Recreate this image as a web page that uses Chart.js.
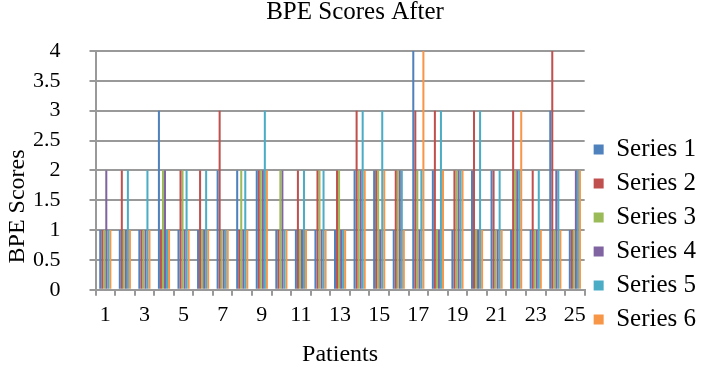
<!DOCTYPE html>
<html>
<head>
<meta charset="utf-8">
<script src="https://cdn.jsdelivr.net/npm/chart.js@4"></script>
<style>
  html, body { margin: 0; padding: 0; background: #fff; }
  #wrap { width: 720px; height: 369px; }
</style>
</head>
<body>
<div id="wrap"><canvas id="bpeChart" width="720" height="369"></canvas></div>
<script>
const patients = [];
for (let i = 1; i <= 25; i++) patients.push(String(i));

// one array per series (patients 1..25)
const series1 = [1,1,1,3,1,1,2,2,2,1,1,1,1,2,2,1,4,2,1,2,2,1,1,3,1];
const series2 = [1,2,1,1,2,2,3,1,2,1,2,2,2,3,2,2,3,3,2,3,2,3,2,4,1];
const series3 = [1,1,1,2,2,1,1,2,2,2,1,2,2,2,2,2,2,1,2,1,1,2,1,1,1];
const series4 = [2,1,1,2,1,1,1,1,2,2,1,1,1,2,1,2,1,1,2,1,1,2,1,2,2];
const series5 = [1,2,2,1,2,2,1,2,3,1,2,2,1,3,3,2,2,3,2,3,2,2,2,2,2];
const series6 = [1,1,1,1,1,1,1,1,2,1,1,1,1,2,2,1,4,2,2,1,1,3,1,1,2];

const seriesNames = ['Series 1', 'Series 2', 'Series 3', 'Series 4', 'Series 5', 'Series 6'];
const seriesColors = ['#4F81BD', '#C0504D', '#9BBB59', '#8064A2', '#4BACC6', '#F79646'];
const allSeries = [series1, series2, series3, series4, series5, series6];

const serif = "'Liberation Serif', 'Times New Roman', serif";

const datasets = allSeries.map((vals, i) => ({
    label: seriesNames[i],
    data: vals,
    backgroundColor: seriesColors[i],
    borderWidth: 0,
    categoryPercentage: 0.62,
    barPercentage: 1.0,
}));

const ctx = document.getElementById('bpeChart').getContext('2d');
new Chart(ctx, {
    type: 'bar',
    data: { labels: patients, datasets: datasets },
    options: {
        responsive: false,
        animation: false,
        layout: { padding: { left: 4, right: 14, top: 0, bottom: 0 } },
        plugins: {
            title: {
                display: true,
                text: 'BPE Scores After',
                color: '#000',
                font: { family: serif, size: 25, weight: 'normal', lineHeight: 1.0 },
                padding: { top: 0, bottom: 26 }
            },
            legend: {
                display: true,
                position: 'right',
                title: {
                    display: true,
                    text: ' ',
                    font: { size: 10 },
                    padding: { top: 88, bottom: 0 }
                },
                labels: {
                    color: '#000',
                    font: { family: serif, size: 25 },
                    boxWidth: 10,
                    boxHeight: 10,
                    padding: 9
                }
            },
            tooltip: { enabled: false }
        },
        scales: {
            x: {
                offset: true,
                grid: {
                    display: true,
                    offset: true,
                    drawOnChartArea: false,
                    drawTicks: true,
                    tickLength: 6,
                    color: '#999',
                    lineWidth: 2
                },
                border: { color: '#999', width: 2 },
                ticks: {
                    autoSkip: false,
                    maxRotation: 0,
                    color: '#000',
                    padding: 6,
                    font: { family: serif, size: 22 },
                    callback: function (value, index) {
                        return index % 2 === 0 ? patients[index] : '';
                    }
                },
                title: {
                    display: true,
                    text: 'Patients',
                    color: '#000',
                    font: { family: serif, size: 24 },
                    padding: { top: 6, bottom: 0 }
                }
            },
            y: {
                min: 0,
                max: 4,
                ticks: {
                    stepSize: 0.5,
                    color: '#000',
                    font: { family: serif, size: 22 },
                    padding: 29,
                    callback: function (value) { return String(value); }
                },
                grid: {
                    color: '#999',
                    lineWidth: 2,
                    drawTicks: true,
                    tickLength: 6
                },
                border: { color: '#999', width: 2 },
                title: {
                    display: true,
                    // trailing spaces push the rotated label a little lower, as in the original
                    text: 'BPE Scores            ',
                    color: '#000',
                    font: { family: serif, size: 24, lineHeight: 1.0 },
                    padding: { top: 2, bottom: -26 }
                }
            }
        }
    }
});
</script>
</body>
</html>
